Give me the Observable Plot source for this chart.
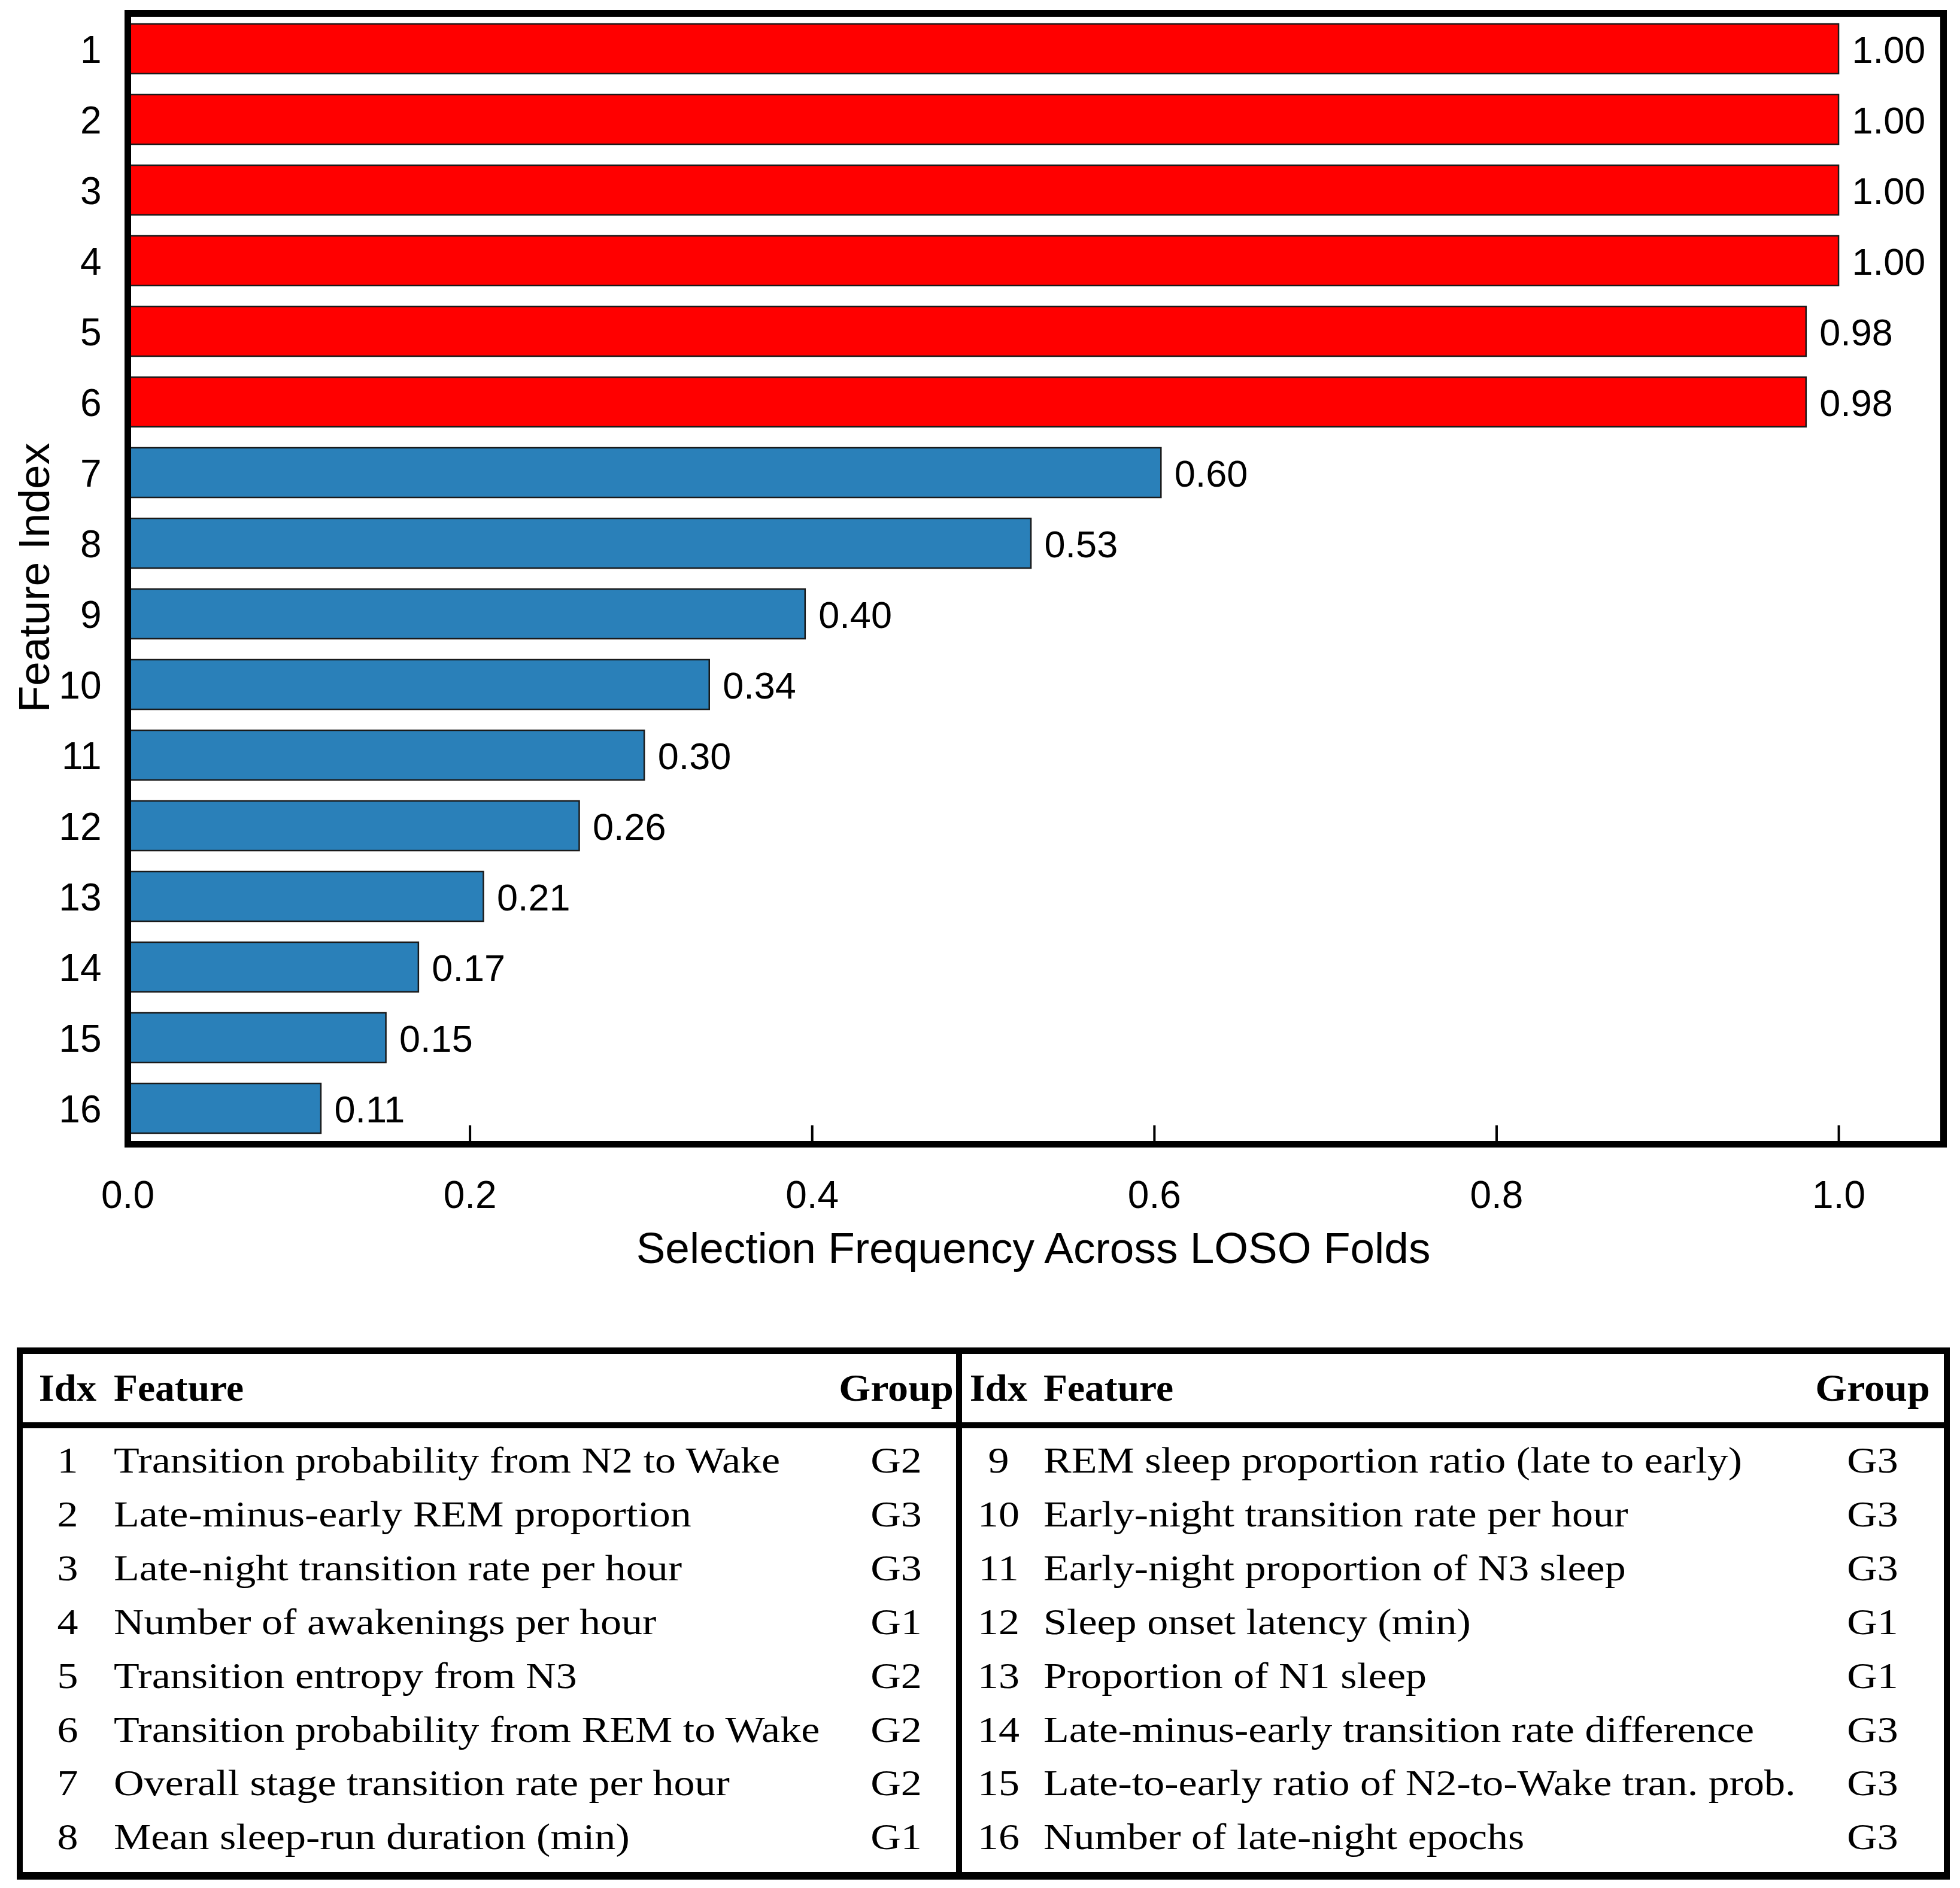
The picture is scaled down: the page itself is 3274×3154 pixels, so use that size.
<!DOCTYPE html>
<html>
<head>
<meta charset="utf-8">
<script src="https://cdn.jsdelivr.net/npm/d3@7"></script>
<script src="https://cdn.jsdelivr.net/npm/@observablehq/plot@0.6"></script>
<style>
  html, body { margin: 0; padding: 0; background: #ffffff; }
  #chart svg, #table svg { display: block; }
</style>
</head>
<body>
<div id="chart"></div>
<div id="table"></div>
<script>
// ---------------- data ----------------
const featureIds = ["1","2","3","4","5","6","7","8","9","10","11","12","13","14","15","16"];
const selectionFreq = [1.00, 1.00, 1.00, 1.00, 0.981, 0.981, 0.604, 0.528, 0.396, 0.340, 0.302, 0.264, 0.208, 0.170, 0.151, 0.113];
const xTicks = [0, 0.2, 0.4, 0.6, 0.8, 1.0];
const xLabel = "Selection Frequency Across LOSO Folds";
const yLabel = "Feature Index";

const featureNames = [
  "Transition probability from N2 to Wake",
  "Late-minus-early REM proportion",
  "Late-night transition rate per hour",
  "Number of awakenings per hour",
  "Transition entropy from N3",
  "Transition probability from REM to Wake",
  "Overall stage transition rate per hour",
  "Mean sleep-run duration (min)",
  "REM sleep proportion ratio (late to early)",
  "Early-night transition rate per hour",
  "Early-night proportion of N3 sleep",
  "Sleep onset latency (min)",
  "Proportion of N1 sleep",
  "Late-minus-early transition rate difference",
  "Late-to-early ratio of N2-to-Wake tran. prob.",
  "Number of late-night epochs"
];
const featureGroups = ["G2","G3","G3","G1","G2","G2","G2","G1","G3","G3","G3","G1","G1","G3","G3","G3"];
const tableHeaders = ["Idx", "Feature", "Group"];

// ---------------- chart ----------------
const rows = featureIds.map((id, i) => ({id, freq: selectionFreq[i]}));
const RED = "#ff0000", BLUE = "#2a80b9";
const W = 3274, H = 2230;

const chart = Plot.plot({
  width: W,
  height: H,
  marginLeft: 213,
  marginRight: 28,
  marginTop: 22,
  marginBottom: 319,
  style: {fontFamily: "'Liberation Sans', Arial, sans-serif", background: "#ffffff", color: "#000000", overflow: "visible"},
  x: {domain: [0, 1.0612]},
  y: {domain: featureIds, paddingInner: 0.3, paddingOuter: 0.15},
  color: {type: "identity"},
  marks: [
    Plot.barX(rows, {x: "freq", y: "id", fill: d => d.freq >= 0.9 ? RED : BLUE, stroke: "#1a1a1a", strokeWidth: 2.5}),
    Plot.text(rows, {x: "freq", y: "id", text: d => d.freq.toFixed(2), dx: 22, dy: 3, textAnchor: "start", fontSize: 63, fill: "#000"}),
    Plot.ruleX(xTicks, {x: d => d, insetTop: 1889 - 31, stroke: "#000", strokeWidth: 4}),
    Plot.frame({stroke: "#000", strokeWidth: 11}),
    Plot.axisY({tickSize: 0, tickPadding: 44, fontSize: 64, label: null, dy: 3}),
    Plot.axisX({ticks: xTicks, tickSize: 0, tickPadding: 61, fontSize: 64, tickFormat: d3.format(".1f"), label: null}),
    Plot.text([xLabel], {text: d => d, frameAnchor: "bottom", textAnchor: "middle", dx: -4, dy: 175, fontSize: 73, lineAnchor: "middle", fill: "#000"}),
    Plot.text([yLabel], {text: d => d, frameAnchor: "left", textAnchor: "middle", rotate: -90, dx: -155, dy: -2, fontSize: 73, lineAnchor: "middle", fill: "#000"})
  ]
});
document.getElementById("chart").appendChild(chart);

// ---------------- table ----------------
const TH = 3154 - H;
const svg = d3.select("#table").append("svg")
  .attr("width", W).attr("height", TH)
  .attr("viewBox", `0 0 ${W} ${TH}`)
  .style("background", "#ffffff");

const box = {left: 28, right: 3257, top: 21, bottom: 910};
const lines = [
  {x: box.left, y: box.top, w: box.right - box.left, h: 11},        // top border
  {x: box.left, y: 146, w: box.right - box.left, h: 10},            // header separator
  {x: box.left, y: 897, w: box.right - box.left, h: 13},            // bottom border
  {x: box.left, y: box.top, w: 10, h: box.bottom - box.top},        // left border
  {x: box.right - 10, y: box.top, w: 10, h: box.bottom - box.top},  // right border
  {x: 1597, y: box.top, w: 10, h: box.bottom - box.top}             // middle divider
];
svg.selectAll("rect.line").data(lines).join("rect")
  .attr("class", "line")
  .attr("x", d => d.x).attr("y", d => d.y)
  .attr("width", d => d.w).attr("height", d => d.h)
  .attr("fill", "#000");

const halves = [
  {idx: 113, feat: 190, group: 1497, start: 0},
  {idx: 1668, feat: 1743, group: 3128, start: 8}
];
const serif = "'Liberation Serif', 'Times New Roman', serif";
function put(x, y, txt, anchor, bold, sx) {
  svg.append("text")
    .attr("transform", `translate(${x},${y}) scale(${sx},1)`)
    .attr("text-anchor", anchor)
    .attr("font-family", serif)
    .attr("font-size", bold ? 63 : 62)
    .attr("font-weight", bold ? "bold" : "normal")
    .attr("fill", "#000")
    .text(txt);
}
halves.forEach(hf => {
  put(hf.idx, 110, tableHeaders[0], "middle", true, 1.06);
  put(hf.feat, 110, tableHeaders[1], "start", true, 1.04);
  put(hf.group, 110, tableHeaders[2], "middle", true, 1.08);
  for (let r = 0; r < 8; r++) {
    const i = hf.start + r;
    const y = 230 + r * 89.9;
    put(hf.idx, y, featureIds[i], "middle", false, 1.13);
    put(hf.feat, y, featureNames[i], "start", false, 1.13);
    put(hf.group, y, featureGroups[i], "middle", false, 1.13);
  }
});
</script>
</body>
</html>
